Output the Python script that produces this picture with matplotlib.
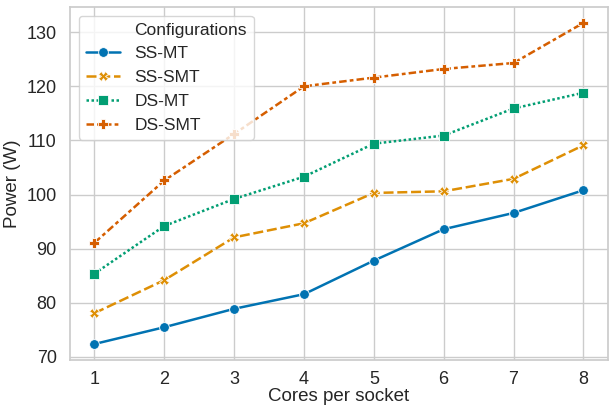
import matplotlib
matplotlib.use("Agg")
import matplotlib.pyplot as plt
from matplotlib.lines import Line2D
import seaborn as sns
import pandas as pd

# Cores per socket
cores = [1, 2, 3, 4, 5, 6, 7, 8]

# Power (W) per configuration
ss_mt = [72.4, 75.5, 78.9, 81.6, 87.8, 93.6, 96.6, 100.8]
ss_smt = [78.1, 84.2, 92.1, 94.7, 100.3, 100.6, 102.9, 109.1]
ds_mt = [85.4, 94.2, 99.2, 103.3, 109.4, 110.9, 115.9, 118.8]
ds_smt = [91.1, 102.6, 111.2, 120.0, 121.6, 123.2, 124.3, 131.7]

configs = ['SS-MT', 'SS-SMT', 'DS-MT', 'DS-SMT']
series = [ss_mt, ss_smt, ds_mt, ds_smt]

rows = []
for name, vals in zip(configs, series):
    for c, v in zip(cores, vals):
        rows.append({'Cores per socket': c, 'Power (W)': v, 'Configurations': name})
df = pd.DataFrame(rows)

sns.set_theme(style="whitegrid", palette="colorblind")
plt.rcParams['font.family'] = ['Liberation Sans', 'DejaVu Sans']

fig, ax = plt.subplots(figsize=(6.09, 4.05), dpi=100)
sns.lineplot(data=df, x='Cores per socket', y='Power (W)',
             hue='Configurations', style='Configurations',
             markers=True, dashes=True, linewidth=1.8, markersize=7,
             markeredgewidth=0.6, ax=ax)

# seaborn's square is a rotated 4-gon and comes out small, bump it
def bump_square(ln):
    if ln.get_marker() not in ('o', 'X', 'P', 'None', None, ''):
        ln.set_markersize(9.5)

for ln in ax.get_lines():
    bump_square(ln)

# old-style seaborn legend: variable name shown as a blank entry
handles, labels = ax.get_legend_handles_labels()
blank = Line2D([], [], linestyle='none', marker=None)
leg = ax.legend([blank] + handles, ['Configurations'] + labels,
                loc='upper left', fontsize=12.5)
for h in leg.legend_handles:
    if isinstance(h, Line2D):
        bump_square(h)

ax.tick_params(labelsize=13)
ax.tick_params(axis='x', pad=2)
ax.set_xlabel('Cores per socket', fontsize=13.5, labelpad=0)
ax.set_ylabel('Power (W)', fontsize=13.5)

fig.subplots_adjust(left=0.115, right=0.998, top=0.983, bottom=0.111)
plt.savefig('out.png', dpi=100)
